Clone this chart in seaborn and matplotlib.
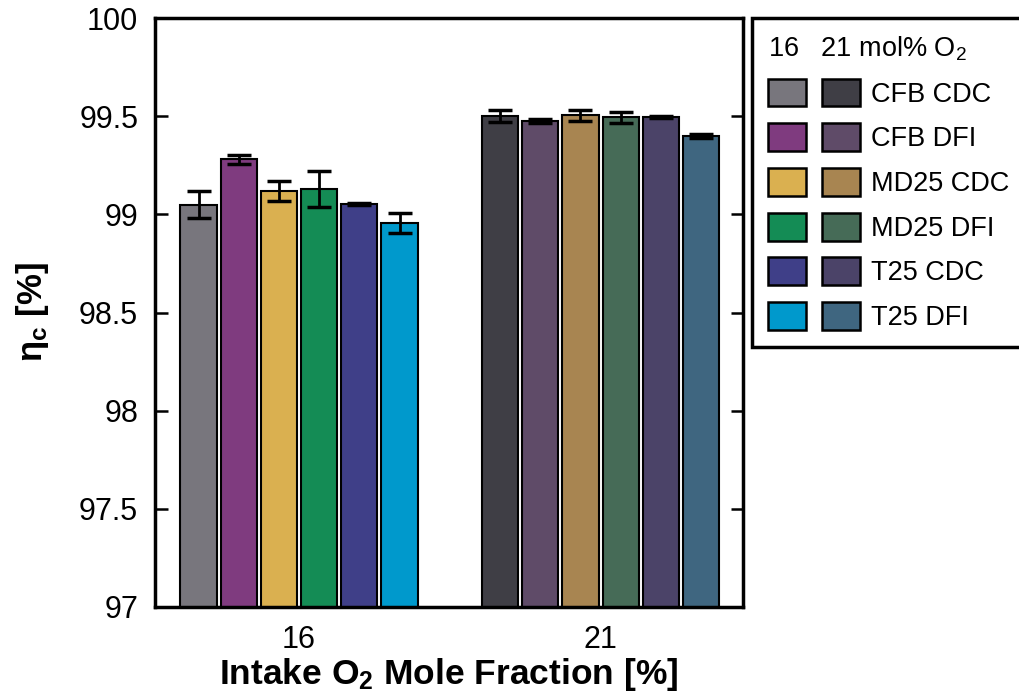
import numpy as np
import pandas as pd
import seaborn as sns
import matplotlib
matplotlib.use("Agg")
import matplotlib.pyplot as plt
from matplotlib.patches import Patch
from matplotlib.legend_handler import HandlerTuple

# Intake O2 mole fractions and fuels
o2_levels = ["16", "21"]
fuels = ["CFB CDC", "CFB DFI", "MD25 CDC", "MD25 DFI", "T25 CDC", "T25 DFI"]

# Combustion efficiency [%] and error half-widths
eta_16 = [99.05, 99.28, 99.12, 99.13, 99.055, 98.955]
err_16 = [0.07, 0.025, 0.05, 0.09, 0.005, 0.05]
eta_21 = [99.50, 99.477, 99.504, 99.494, 99.496, 99.40]
err_21 = [0.03, 0.01, 0.028, 0.03, 0.005, 0.01]

colors_16 = ["#78767d", "#7f3b7f", "#dab050", "#148c55", "#3f3f88", "#0099cc"]
colors_21 = ["#3f3e45", "#5f4b68", "#a88551", "#466b57", "#4b4368", "#3f6680"]

sns.set_theme(style="ticks")
plt.rcParams["font.family"] = ["Liberation Sans", "DejaVu Sans"]
plt.rcParams["mathtext.fontset"] = "custom"
plt.rcParams["mathtext.rm"] = "Liberation Sans"
plt.rcParams["mathtext.bf"] = "Liberation Sans:bold"
plt.rcParams["mathtext.it"] = "Liberation Sans:italic"
for key in ("text.color", "axes.labelcolor", "xtick.color", "ytick.color"):
    plt.rcParams[key] = "black"

fig = plt.figure(figsize=(10.19, 6.96), dpi=100)
ax = fig.add_axes([0.152, 0.128, 0.577, 0.846])

df16 = pd.DataFrame({"o2": "16", "fuel": fuels, "eta": eta_16})
df21 = pd.DataFrame({"o2": "21", "fuel": fuels, "eta": eta_21})

for df, pal in ((df16, colors_16), (df21, colors_21)):
    sns.barplot(data=df, x="o2", y="eta", hue="fuel", order=o2_levels,
                hue_order=fuels, palette=pal, saturation=1, width=0.8, gap=0.1,
                edgecolor="black", linewidth=1.5, errorbar=None,
                legend=False, ax=ax)

# Error bars placed on the drawn bars
errs = err_16 + err_21
for p, e in zip(ax.patches, errs):
    xc = p.get_x() + p.get_width() / 2
    ax.errorbar(xc, p.get_height(), yerr=e, fmt="none", ecolor="black",
                elinewidth=2.0, capsize=8.5, capthick=2.5, zorder=5)

ax.set_ylim(97, 100)
ax.set_xlim(-0.478, 1.472)
ax.set_yticks([97, 97.5, 98, 98.5, 99, 99.5, 100])
ax.set_yticklabels(["97", "97.5", "98", "98.5", "99", "99.5", "100"])
ax.tick_params(axis="y", direction="in", length=9, width=1.8, labelsize=22,
               pad=12, right=True)
ax.tick_params(axis="x", length=0, labelsize=22, pad=13)
for s in ax.spines.values():
    s.set_linewidth(2.5)
    s.set_color("black")

ax.set_xlabel(r"Intake O$_\mathbf{2}$ Mole Fraction [%]", fontsize=25.5,
              fontweight="bold", labelpad=1)
ax.set_ylabel(r"$\mathbf{\eta}_\mathbf{c}$ [%]", fontsize=25, fontweight="bold",
              labelpad=20)

handles = [(Patch(facecolor=c1, edgecolor="black", linewidth=1.8),
            Patch(facecolor=c2, edgecolor="black", linewidth=1.8))
           for c1, c2 in zip(colors_16, colors_21)]
leg = fig.legend(handles, fuels, handler_map={tuple: HandlerTuple(ndivide=None, pad=0.6)},
                 loc="upper left", bbox_to_anchor=(0.738, 0.974), borderaxespad=0,
                 fontsize=19.5, title="16   21 mol% O$_2$", title_fontsize=19.5,
                 alignment="left", handlelength=3.4, handleheight=1.2,
                 handletextpad=0.4, labelspacing=0.58, borderpad=0.6,
                 fancybox=False, framealpha=1, edgecolor="black")
leg.get_frame().set_linewidth(2.5)

fig.savefig("out.png", dpi=100)
